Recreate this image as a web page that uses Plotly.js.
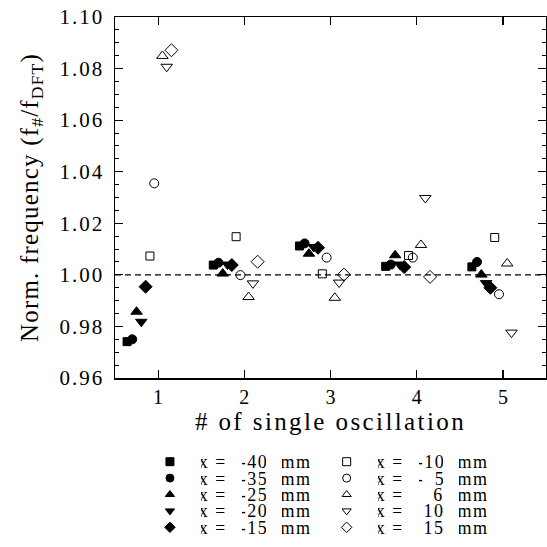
<!DOCTYPE html>
<html><head><meta charset="utf-8">
<script src="https://cdn.plot.ly/plotly-3.0.1.min.js"></script>
<style>
html,body{margin:0;padding:0;background:#fff}
#chart g.ytick text{letter-spacing:2px}
#chart text.xtitle{letter-spacing:2.4px}
#chart text.ytitle{letter-spacing:1.2px}
#chart text.annotation-text{letter-spacing:1.5px}
</style>
</head><body><div id="chart" style="width:547px;height:547px"></div>
<script>
// ---- data ----
const oscillation = [1, 2, 3, 4, 5];
const positionsMm = [-40, -35, -25, -20, -15, -10, -5, 6, 10, 15];
const y_m40 = [0.9741, 1.0038, 1.0112, 1.0033, 1.0031];
const y_m35 = [0.9750, 1.0047, 1.0122, 1.0040, 1.0050];
const y_m25 = [0.9857, 1.0005, 1.0082, 1.0076, 1.0001];
const y_m20 = [0.9818, 1.0040, 1.0108, 1.0040, 0.9968];
const y_m15 = [0.9954, 1.0038, 1.0105, 1.0030, 0.9950];
const y_m10 = [1.0073, 1.0148, 1.0004, 1.0075, 1.0145];
const y_m5  = [1.0355, 0.9999, 1.0067, 1.0067, 0.9925];
const y_p6  = [1.0849, 0.9914, 0.9911, 1.0116, 1.0044];
const y_p10 = [1.0807, 0.9967, 0.9970, 1.0298, 0.9776];
const y_p15 = [1.0871, 1.0051, 1.0001, 0.9992, null];
const referenceLevel = 1.0;
const yTickVals = [0.96, 0.98, 1.00, 1.02, 1.04, 1.06, 1.08, 1.10];

// ---- styling ----
const seriesY = [y_m40, y_m35, y_m25, y_m20, y_m15, y_m10, y_m5, y_p6, y_p10, y_p15];
const symbols = ['square', 'circle', 'triangle-up', 'triangle-down', 'diamond',
  'square-open', 'circle-open', 'triangle-up-open', 'triangle-down-open', 'diamond-open'];
const sizes = [8, 9, 10, 10, 10, 8, 9, 10, 10, 10];
const dodge = [-0.36, -0.30, -0.25, -0.195, -0.145, -0.095, -0.045, 0.05, 0.10, 0.155];
const FONT = 'Liberation Serif';

function fmtNum(v) {
  if (v < 0) return '-' + (Math.abs(v) < 10 ? '\u2007' : '') + Math.abs(v);
  return String(v);
}

const traces = seriesY.map((ys, i) => ({
  type: 'scatter', mode: 'markers',
  x: oscillation.map(o => o + dodge[i]),
  y: ys,
  name: 'x = ' + positionsMm[i] + ' mm',
  showlegend: false,
  marker: { symbol: symbols[i], size: sizes[i], color: '#000', line: { color: '#000', width: 1 } },
  cliponaxis: false
}));

// legend block drawn with the same markers on a hidden axis pair
const legCol = positionsMm.map((_, i) => Math.floor(i / 5));
const legRow = positionsMm.map((_, i) => i % 5);
traces.push({
  type: 'scatter', mode: 'markers', xaxis: 'x2', yaxis: 'y2',
  x: legCol, y: legRow, showlegend: false, hoverinfo: 'skip',
  marker: { symbol: symbols, size: 8, color: '#000', line: { color: '#000', width: 1 } }
});

const annotations = [];
const afont = { family: FONT, size: 18, color: '#000' };
positionsMm.forEach((v, i) => {
  const base = { xref: 'x2', yref: 'y2', x: legCol[i], y: legRow[i], showarrow: false, font: afont, yanchor: 'middle', height: 15 };
  annotations.push(Object.assign({}, base, { text: 'x =', xanchor: 'left', xshift: 29 }));
  annotations.push(Object.assign({}, base, { text: fmtNum(v), xanchor: 'right', xshift: 98 }));
  annotations.push(Object.assign({}, base, { text: 'mm', xanchor: 'left', xshift: 110 }));
});

const layout = {
  width: 547, height: 547,
  margin: { l: 115, r: 1, t: 17, b: 5 },
  paper_bgcolor: '#fff', plot_bgcolor: '#fff',
  showlegend: false,
  font: { family: FONT, color: '#000' },
  xaxis: {
    domain: [0, 1], range: [0.5, 5.5], tickvals: oscillation, ticktext: oscillation.map(String),
    ticks: 'inside', ticklen: 8, tickwidth: 1.2, tickcolor: '#000',
    showline: true, linecolor: '#000', linewidth: 1.5, mirror: 'allticks',
    showgrid: false, zeroline: false,
    tickfont: { family: FONT, size: 20 },
    title: { text: '# of single oscillation', font: { family: FONT, size: 25 }, standoff: 2 }
  },
  yaxis: {
    domain: [1 - 361 / 525, 1], range: [0.96, 1.10], tickvals: yTickVals, tickformat: '.2f',
    ticks: 'inside', ticklen: 8, tickwidth: 1.2, tickcolor: '#000',
    minor: { dtick: 0.005, tick0: 0.96, ticks: 'inside', ticklen: 4, tickwidth: 1, tickcolor: '#000', showgrid: false },
    showline: true, linecolor: '#000', linewidth: 1.5, mirror: 'allticks',
    showgrid: false, zeroline: false, ticklabelstandoff: 5,
    tickfont: { family: FONT, size: 21 },
    title: { text: 'Norm. frequency (f<sub>#</sub>/f<sub>DFT</sub>)', font: { family: FONT, size: 25 }, standoff: 22 }
  },
  xaxis2: { domain: [0, 1], range: [-0.311, 2.128], visible: false, anchor: 'y2', fixedrange: true },
  yaxis2: { domain: [0, 0.2], range: [4.896, -1.506], visible: false, anchor: 'x2', fixedrange: true },
  shapes: [{
    type: 'line', xref: 'x', yref: 'y', x0: 0.5, x1: 5.5, y0: referenceLevel, y1: referenceLevel,
    line: { color: '#000', width: 1.2, dash: '6px,4px' }, layer: 'below'
  }],
  annotations: annotations
};

Plotly.newPlot('chart', traces, layout, { displayModeBar: false, staticPlot: true });
</script>
</body></html>
